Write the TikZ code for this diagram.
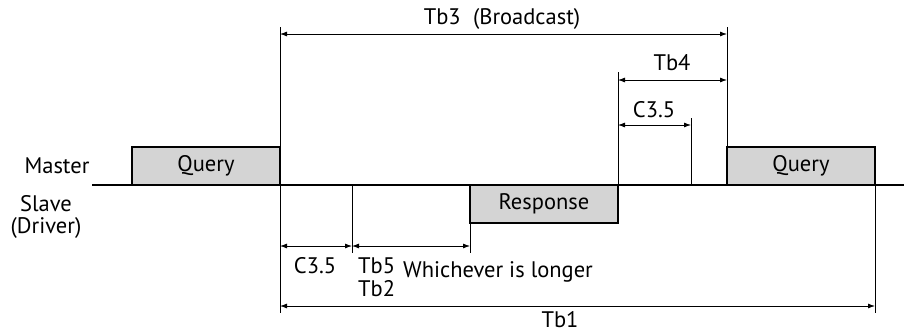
\documentclass[tikz,border=0pt]{standalone}
\usepackage{fontspec}
\setmainfont{PT Sans}
\usetikzlibrary{arrows.meta}
\definecolor{boxgray}{RGB}{212,212,212}
\begin{document}
\begin{tikzpicture}[x=1pt,y=-1pt, font=\fontsize{22.5}{26}\selectfont,
 box/.style={draw, line width=2pt, fill=boxgray, minimum height=38pt, minimum width=148pt, inner sep=0pt, outer sep=0pt},
 dim/.style={line width=0.8pt, {Latex[length=7pt,width=5pt]}-{Latex[length=7pt,width=5pt]}},
 ext/.style={line width=0.8pt},
 lbl/.style={inner sep=0pt}]
\useasboundingbox (0,0) rectangle (904,335);
% baseline
\coordinate (bl0) at (92,185);
\coordinate (bl1) at (904,185);
\draw[line width=2pt] (bl0) -- (bl1);
% boxes
\node[box, anchor=south west] (q1) at (132,185) {Query};
\node[box, anchor=south west] (q2) at (727,185) {Query};
\node[box, anchor=north west] (resp) at (470,185) {Response};
% extension line coordinates
\coordinate (e1t) at (280,27);
\coordinate (e1b) at (280,313);
\coordinate (e2t) at (727,27);
\coordinate (e3t) at (618,72);
\coordinate (e4t) at (691,118);
\coordinate (e4b) at (691,185);
\coordinate (e5t) at (352,185);
\coordinate (e5b) at (352,253);
\coordinate (e6b) at (470,253);
\coordinate (e7b) at (875,313);
\draw[ext] (e1t) -- (e1b);
\draw[ext] (e2t) -- (q2.north west);
\draw[ext] (e3t) -- (resp.north east);
\draw[ext] (e4t) -- (e4b);
\draw[ext] (e5t) -- (e5b);
\draw[ext] (resp.south west) -- (e6b);
\draw[ext] (q2.south east) -- (e7b);
% dimension arrows
\coordinate (d3l) at (280,34);
\coordinate (d3r) at (727,34);
\coordinate (d4l) at (618,80);
\coordinate (d4r) at (727,80);
\coordinate (dcl) at (618,125);
\coordinate (dcr) at (691,125);
\coordinate (dal) at (280,246);
\coordinate (dam) at (352,246);
\coordinate (dar) at (470,246);
\coordinate (d1l) at (280,306);
\coordinate (d1r) at (875,306);
\draw[dim] (d3l) -- (d3r);
\draw[dim] (d4l) -- (d4r);
\draw[dim] (dcl) -- (dcr);
\draw[dim] (dal) -- (dam);
\draw[dim] (dam) -- (dar);
\draw[dim] (d1l) -- (d1r);
% labels
\node[lbl] (tb3) at (502,19) {Tb3\hspace{0.55em}(Broadcast)};
\node[lbl] (tb4) at (672,63) {Tb4};
\node[lbl] (c35u) at (654,110) {C3.5};
\node[lbl] (master) at (57,166) {Master};
\node[lbl] (slave) at (46,204) {Slave};
\node[lbl] (driver) at (46,228) {(Driver)};
\node[lbl] (c35l) at (315,266) {C3.5};
\node[lbl, anchor=west] (tb5) at (358,266) {Tb5};
\node[lbl, anchor=west] (tb2) at (358,289) {Tb2};
\node[lbl, anchor=west] (which) at (403,272) {Whichever is longer};
\node[lbl] (tb1) at (560,320) {Tb1};
\end{tikzpicture}
\end{document}
